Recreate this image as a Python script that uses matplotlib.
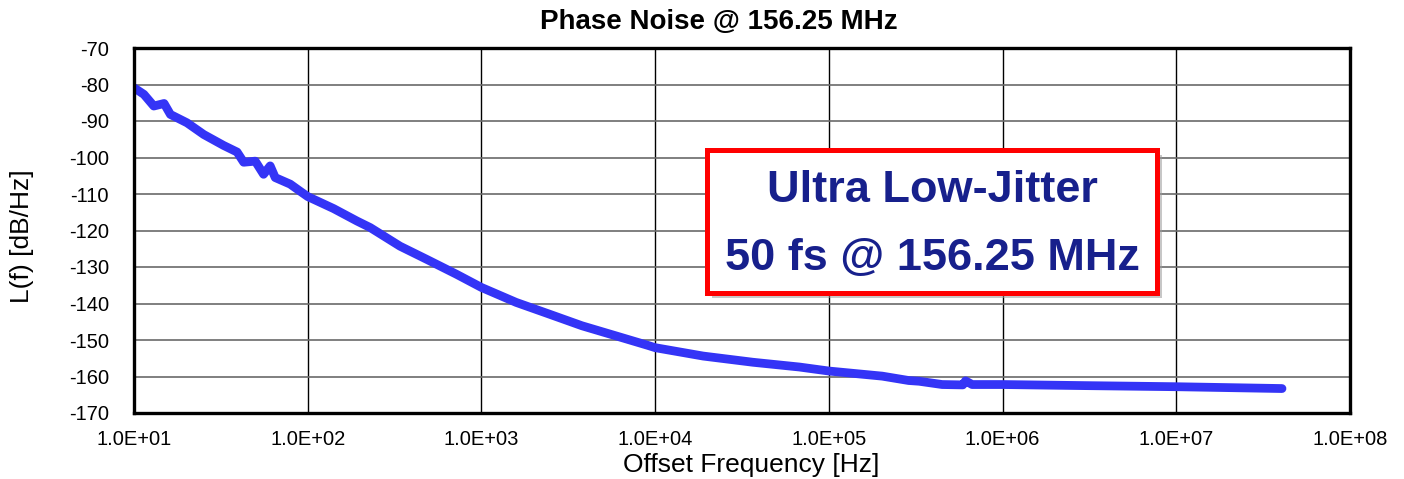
import math
import matplotlib
matplotlib.use("Agg")
import matplotlib.pyplot as plt
from matplotlib.patches import Rectangle
from matplotlib.ticker import FixedLocator, FuncFormatter, NullLocator

plt.rcParams['font.family'] = ['Liberation Sans', 'DejaVu Sans']
plt.rcParams['axes.unicode_minus'] = False

# ---- data ----
freq_hz = [10, 11.4, 13.0, 14.9, 16.2, 20.2, 25.2, 32.8, 39.2, 42.8, 49.9,
           55.7, 60.8, 65, 79.3, 90.8, 100, 141, 192, 229, 340, 484, 719,
           1000, 1585, 2455, 3790, 5885, 9120, 10000, 18900, 36600, 67600,
           1e5, 2.03e5, 2.88e5, 3.31e5, 4.49e5, 5.9e5, 6.12e5, 6.68e5,
           1e6, 3e6, 1e7, 4.06e7]
noise_dbc = [-80.9, -82.7, -85.9, -85.2, -88.2, -90.5, -93.7, -96.7, -98.5,
             -101.3, -101.0, -104.6, -102.3, -105.5, -107.3, -109.3, -110.7,
             -114.0, -117.4, -119.2, -124.3, -127.9, -132.0, -135.6, -139.7,
             -142.9, -146.1, -148.8, -151.5, -152.1, -154.4, -156.1, -157.4,
             -158.5, -159.9, -161.1, -161.3, -162.2, -162.3, -161.2, -162.2,
             -162.2, -162.5, -162.8, -163.3]
x_ticks = [1e1, 1e2, 1e3, 1e4, 1e5, 1e6, 1e7, 1e8]
y_ticks = list(range(-170, -60, 10))
title = "Phase Noise @ 156.25 MHz"
x_label = "Offset Frequency [Hz]"
y_label = "L(f) [dB/Hz]"
box_lines = ["Ultra Low-Jitter", "50 fs @ 156.25 MHz"]

W, H = 1404, 479
fig = plt.figure(figsize=(W / 100, H / 100), dpi=100)

def fx(px):
    return px / W

def fy(py):
    return 1 - py / H

L, R, T, B = 134, 1350, 48, 413
ax = fig.add_axes([fx(L), fy(B), fx(R) - fx(L), fy(T) - fy(B)])

ax.plot(freq_hz, noise_dbc, color='#3434F6', lw=6.3, solid_capstyle='round',
        solid_joinstyle='round', zorder=3)

ax.set_xscale('log')
ax.set_xlim(1e1, 1e8)
ax.set_ylim(-170, -70)
ax.xaxis.set_major_locator(FixedLocator(x_ticks))
ax.xaxis.set_minor_locator(NullLocator())
ax.xaxis.set_major_formatter(FuncFormatter(lambda v, p: "1.0E+%02d" % round(math.log10(v))))
ax.set_yticks(y_ticks)
ax.tick_params(axis='both', length=0, labelsize=14.5, colors='black')
ax.tick_params(axis='y', pad=18)
ax.tick_params(axis='x', pad=12)

ax.grid(axis='x', color='black', lw=1.0, zorder=1)
ax.grid(axis='y', color='#6a6a6a', lw=1.2, zorder=1)
for s in ax.spines.values():
    s.set_linewidth(2.4)
    s.set_color('black')
    s.set_zorder(4)

fig.text(fx(719), fy(29), title, ha='center', va='baseline',
         fontsize=20, fontweight='bold')
fig.text(fx(751), fy(465), x_label, ha='center', va='center', fontsize=19)
fig.text(fx(22.5), fy(236.5), y_label, ha='center', va='center',
         rotation=90, fontsize=19)

# annotation box with shadow
bx0, bx1, by0, by1 = 706.5, 1156.5, 149.8, 292.8
shadow = Rectangle((fx(bx0 + 5), fy(by1 + 5)), fx(bx1) - fx(bx0), fy(by0) - fy(by1),
                   transform=fig.transFigure, facecolor='#9a9a9a', edgecolor='none',
                   alpha=0.55, zorder=5)
box = Rectangle((fx(bx0), fy(by1)), fx(bx1) - fx(bx0), fy(by0) - fy(by1),
                transform=fig.transFigure, facecolor='white', edgecolor='#FF0000',
                lw=3.6, zorder=6)
fig.add_artist(shadow)
fig.add_artist(box)
fig.text(fx(932), fy(191), box_lines[0], ha='center', va='center', fontsize=32.5,
         fontweight='bold', color='#17208C', zorder=7)
fig.text(fx(932), fy(259), box_lines[1], ha='center', va='center', fontsize=32.5,
         fontweight='bold', color='#17208C', zorder=7)

fig.savefig('out.png', dpi=100)
